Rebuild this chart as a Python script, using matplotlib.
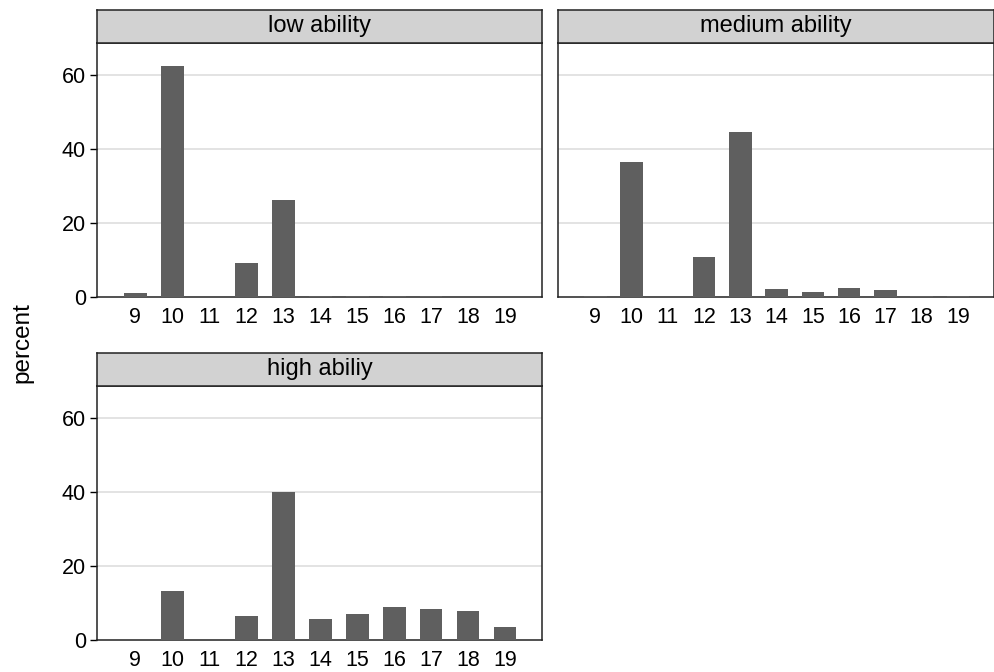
import matplotlib
matplotlib.use("Agg")
import matplotlib.pyplot as plt

plt.rcParams['font.family'] = ['Liberation Sans', 'DejaVu Sans']

years = [9, 10, 11, 12, 13, 14, 15, 16, 17, 18, 19]
low = [1.0, 62.5, 0.1, 9.2, 26.2, 0.4, 0.2, 0.4, 0.2, 0.1, 0.1]
medium = [0.3, 36.4, 0.1, 10.8, 44.5, 2.2, 1.4, 2.4, 1.8, 0.4, 0.3]
high = [0.1, 13.2, 0.1, 6.6, 40.0, 5.7, 7.0, 8.8, 8.3, 7.7, 3.4]
titles = ["low ability", "medium ability", "high abiliy"]
yticks = [0, 20, 40, 60]

W, H = 995, 672
bar_col = "#5f5f5f"
strip_col = "#d2d2d2"

fig = plt.figure(figsize=(W / 100, H / 100), dpi=100)

#x0, x1 : left/right pixel, ytop/ybot : plot area pixel
def panel(x0, x1, ytop, ybot, vals, title, show_y):
    ax = fig.add_axes([x0 / W, 1 - ybot / H, (x1 - x0) / W, (ybot - ytop) / H])
    ax.bar(years, vals, width=0.62, color=bar_col, zorder=3)
    ax.set_xlim(7.97, 20.0)
    ax.set_ylim(0, 68.6)
    ax.set_xticks(years)
    ax.set_xticklabels([str(y) for y in years], fontsize=15.5)
    ax.tick_params(axis='x', length=0, pad=7)
    ax.set_yticks(yticks)
    for t in yticks[1:]:
        ax.axhline(t, color="#e3e3e3", lw=1.4, zorder=1)
    if show_y:
        ax.set_yticklabels([str(t) for t in yticks], fontsize=15.5)
        ax.tick_params(axis='y', length=5, width=1, pad=3)
    else:
        ax.tick_params(axis='y', length=0, labelleft=False)
    for s in ax.spines.values():
        s.set_linewidth(1.1)
        s.set_color("#222222")
    # strip
    sax = fig.add_axes([x0 / W, 1 - ytop / H, (x1 - x0) / W, 33 / H])
    sax.set_facecolor(strip_col)
    sax.set_xticks([])
    sax.set_yticks([])
    for s in sax.spines.values():
        s.set_linewidth(1.1)
        s.set_color("#222222")
    sax.text(0.5, 0.52, title, ha='center', va='center', fontsize=17,
             transform=sax.transAxes)
    return ax

panel(97, 542, 43, 297, low, titles[0], True)
panel(558, 994, 43, 297, medium, titles[1], False)
panel(97, 542, 386, 640, high, titles[2], True)

fig.text(22 / W, 1 - 343 / H, "percent", rotation=90, ha='center', va='center',
         fontsize=17.5)

fig.savefig("out.png", dpi=100)
